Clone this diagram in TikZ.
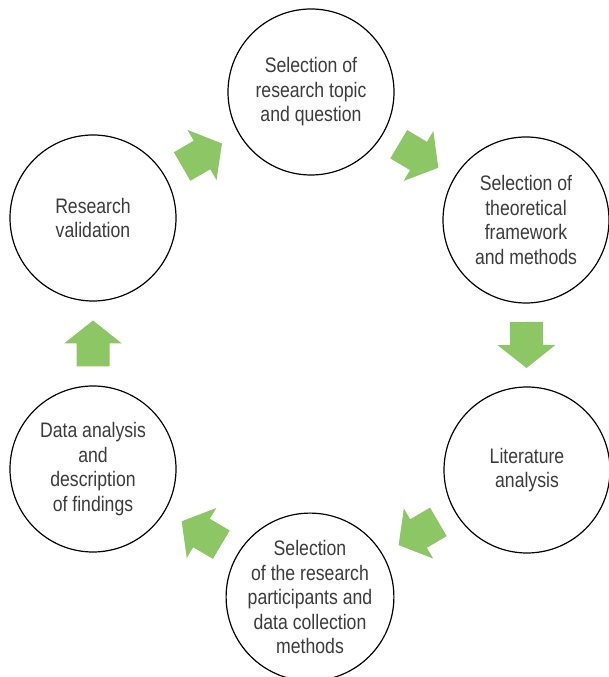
\documentclass[tikz,border=0pt]{standalone}
\usepackage{fontspec}
\setmainfont[FakeStretch=0.84]{Liberation Sans}
\usetikzlibrary{calc}
\definecolor{arrowgreen}{HTML}{8CC665}
\definecolor{txtgray}{HTML}{3C3C3C}
\tikzset{
  stagecircle/.style={circle, draw=black, line width=1.2pt, minimum size=166pt, inner sep=0pt,
    align=center, text=txtgray, font=\fontsize{21}{24.5}\selectfont},
  blockarrow/.pic={\fill[arrowgreen] (-23,-16.5) -- (0,-16.5) -- (0,-29) -- (23,0) -- (0,29) -- (0,16.5) -- (-23,16.5) -- cycle;}
}
\begin{document}
\begin{tikzpicture}[x=1pt,y=1pt]
\useasboundingbox (0,0) rectangle (608,677);
\fill[white] (0,0) rectangle (608,677);
\node[stagecircle] (A) at (311,585) {Selection of\\research topic\\and question};
\node[stagecircle] (B) at (526,457) {Selection of\\theoretical\\framework\\and methods};
\node[stagecircle] (C) at (527,207) {Literature\\analysis};
\node[stagecircle] (D) at (310,80) {Selection\\of the research\\participants and\\data collection\\methods};
\node[stagecircle] (E) at (93,208) {Data analysis\\and\\description\\of findings};
\node[stagecircle] (F) at (93,459) {Research\\validation};
\foreach \s/\t in {F/A, A/B, B/C, C/D, D/E, E/F}{
  \path let \p1=($(\t)-(\s)$), \n1={atan2(\y1,\x1)} in
    ($(\s)!0.5!(\t)$) pic[rotate=\n1] {blockarrow};
}
\end{tikzpicture}
\end{document}
